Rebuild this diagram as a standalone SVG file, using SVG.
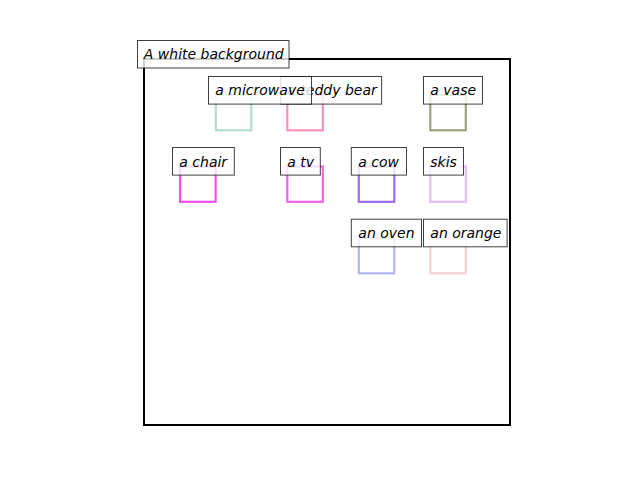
<svg xmlns="http://www.w3.org/2000/svg" width="640" height="480" viewBox="0 0 640 480">
<style>
.sq{fill:none;stroke-width:2.2}
.lb{fill:#fff;fill-opacity:0.8;stroke:#000;stroke-opacity:0.75;stroke-width:1}
.tx{font-family:"DejaVu Sans","Noto Sans",sans-serif;font-style:italic;font-size:14px;fill:#000}
</style>
<rect width="640" height="480" fill="#fff"/>
<g id="frame"><rect x="144" y="59" width="366" height="366" fill="none" stroke="#000" stroke-width="2"/></g>
<g id="connectors"></g>
<g id="squares">
<rect class="sq" x="215.8" y="95" width="35.5" height="35.3" stroke="#b5dccb"/>
<rect class="sq" x="287.3" y="95" width="35.5" height="35.3" stroke="#f78fc7"/>
<rect class="sq" x="430.3" y="95" width="35.5" height="35.3" stroke="#9aa57a"/>
<rect class="sq" x="180.1" y="166.5" width="35.5" height="35.3" stroke="#f150f0"/>
<rect class="sq" x="287.3" y="166.5" width="35.5" height="35.3" stroke="#f064ef"/>
<rect class="sq" x="358.8" y="166.5" width="35.5" height="35.3" stroke="#9a6ef5"/>
<rect class="sq" x="430.3" y="166.5" width="35.5" height="35.3" stroke="#e1bef5"/>
<rect class="sq" x="358.8" y="238" width="35.5" height="35.3" stroke="#b4b4f7"/>
<rect class="sq" x="430.3" y="238" width="35.5" height="35.3" stroke="#f6d2d6"/>
</g>
<g id="title"><rect class="lb" x="137.5" y="40.5" width="151.5" height="27.5"/><text class="tx" x="143.8" y="59">A white background</text></g>
<g id="teddy-bear"><rect class="lb" x="280.8" y="76.5" width="100.8" height="27.6"/><text class="tx" x="287.3" y="95">a teddy bear</text></g>
<g id="microwave"><rect class="lb" x="208.5" y="76.5" width="103" height="27.6"/><text class="tx" x="215.3" y="95">a microwave</text></g>
<g id="vase"><rect class="lb" x="423.5" y="76.5" width="59" height="27.6"/><text class="tx" x="430.3" y="95">a vase</text></g>
<g id="chair"><rect class="lb" x="172.5" y="147.5" width="61.8" height="27.6"/><text class="tx" x="179.3" y="166.5">a chair</text></g>
<g id="tv"><rect class="lb" x="280.5" y="147.5" width="39.8" height="27.6"/><text class="tx" x="287.3" y="166.5">a tv</text></g>
<g id="cow"><rect class="lb" x="351.3" y="147.5" width="55.2" height="27.6"/><text class="tx" x="358.3" y="166.5">a cow</text></g>
<g id="skis"><rect class="lb" x="423.5" y="147.5" width="40" height="27.6"/><text class="tx" x="430.3" y="166.5">skis</text></g>
<g id="oven"><rect class="lb" x="351.3" y="219.2" width="70.2" height="27.6"/><text class="tx" x="358.3" y="238">an oven</text></g>
<g id="orange"><rect class="lb" x="423.5" y="219.2" width="83.6" height="27.6"/><text class="tx" x="430.3" y="238">an orange</text></g>
</svg>
